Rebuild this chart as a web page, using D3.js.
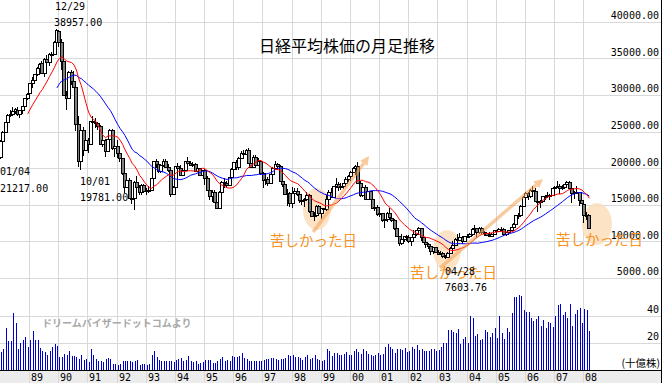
<!DOCTYPE html>
<html><head><meta charset="utf-8">
<script src="https://cdn.jsdelivr.net/npm/d3@7"></script>
<style>body{margin:0;background:#fff}svg{display:block}</style>
</head><body><svg id="c" width="662" height="383"></svg>
<script>
// ---- DATA (Nikkei 225 monthly, Jan 1988 - Mar 2008) ----
const startYear = 1988;
const opens = [
21575,23700,25000,26300,27250,27400,27770,28000,27350,27900,28500,29600,
30200,31600,32000,32800,33700,34300,32950,34950,34430,35640,35550,37270,
38700,37200,34600,29980,29600,33130,31940,31036,25980,20980,25200,22450,
23850,23300,26400,26300,26100,25800,23290,23900,22340,23920,25220,22690,
22990,22020,21340,19350,17390,18350,15950,15910,18060,17400,16770,17680,
16930,17020,17030,18590,20920,20550,19590,20380,21030,20110,19700,16410,
17420,20230,20000,19110,19730,20970,20640,20450,20630,19560,19990,19080,
19720,18650,17050,16140,16810,15440,14520,16680,18120,17910,17660,18740,
19870,20810,20130,21410,22040,21960,22530,20690,20170,21560,20470,21020,
19360,18330,18560,18000,19150,20070,20600,20330,18230,17890,16460,16640,
15260,16630,16830,16530,15640,15670,15830,16380,14110,13400,13570,14880,
13840,14500,14370,15840,16700,16110,17530,17860,17440,17600,17940,18560,
18940,19540,19960,20340,17970,16330,17410,15730,16860,15750,14540,14650,
13790,13840,12880,13000,13930,13260,12970,11860,10710,9780,10370,10700,
10540,10000,10590,11020,11490,11760,10620,9880,9620,9380,8640,9220,
8580,8340,8360,7970,7830,8430,9080,9560,10340,10220,10560,10100,
10680,10780,11040,11710,11760,11240,11860,11330,11080,10820,10770,11000,
11490,11390,11740,11670,11010,11280,11580,11900,12410,13570,13610,14870,
16110,16650,16210,17060,16910,15470,15500,15460,16140,16130,16400,16270,
17230,17380,17600,17290,17400,17880,18140,17250,16570,16790,16740,15680,
15150,13590,13600];
const highs = [
23800,25100,26300,27400,28000,28350,28200,28400,28000,28500,29600,30200,
31600,32500,32900,33800,34300,34700,35000,35400,35700,35900,37300,38957,
38713,37700,35000,30600,33300,33400,33200,31100,27100,25400,25600,24400,
24100,26500,27146,26800,26300,25900,24300,24000,24000,25300,25300,23100,
23800,22200,21400,19500,18800,18600,16600,18300,18900,17700,17900,17900,
17300,17600,18700,21000,21200,20800,20500,21281,21300,20500,19800,17600,
20300,20700,20400,19900,21000,21552,21000,20900,20700,20100,20000,19800,
19900,18900,17300,17000,17000,15600,16900,18300,18600,18200,18800,20000,
20900,21100,21500,22300,22500,22666,22700,21200,21800,21800,21400,21100,
19500,18900,18800,19200,20200,20910,20700,20400,18500,18000,17200,16700,
17400,17300,17300,16700,16000,15900,16800,16500,14800,14000,15000,15000,
14500,14600,16400,17000,17300,17600,18600,18100,18000,18000,18800,19000,
19600,20200,20400,20833,18300,17500,17700,16900,16900,16200,15100,14900,
14200,13900,13300,14000,14529,13700,13000,12200,10800,11000,10800,10900,
10900,10600,11500,11600,11979,11800,10700,10300,9800,9400,9300,9250,
8800,8700,8600,8200,8500,9200,10000,10400,11000,11161,10700,10800,
11000,11100,11800,12195,11800,12000,11900,11400,11300,11300,11200,11500,
11500,11800,11950,11800,11300,11600,11900,12500,13600,13900,14900,16200,
16700,16800,17100,17563,17300,15600,15700,16200,16400,16800,16500,17300,
17600,18300,17800,17700,17900,18300,18262,17300,16900,17500,16800,16300,
15200,14000,13700];
const lows = [
21217,23400,24800,26000,27000,27200,27400,27100,26800,27400,28300,29300,
29700,31000,31500,32600,33200,32900,32500,34100,34000,34800,35400,37000,
36600,33400,29843,28002,29500,31300,31000,25100,20222,19781,21600,22400,
22083,23200,25600,25500,25200,23200,22900,21456,22200,23600,22500,21500,
21400,20800,19000,16600,17300,15800,15100,14309,17000,16300,16300,16700,
16400,16600,16900,18500,20000,19400,19300,20100,20000,19500,16078,16300,
17300,19500,19100,18900,19600,20400,20300,20100,19500,19500,18900,18900,
17700,16900,15700,15400,15400,14485,14400,16500,17300,17300,17500,18600,
19700,19700,19800,21300,21600,21800,20500,20100,20000,20400,20300,19100,
17303,17700,17500,17800,19000,19900,19700,18100,17400,16300,14800,14700,
14500,16100,16200,15300,15000,14700,15700,13900,13300,12788,13500,13700,
13100,13800,14100,15800,16000,16000,17300,16900,17000,17100,17800,18100,
18200,19300,19100,17900,16000,16000,15600,15600,15700,14500,14200,13400,
13300,12600,11819,12600,13200,12600,11600,10600,9382,9500,9900,10100,
9800,9420,10500,10800,11400,10100,9800,9075,9000,8197,8300,8400,
8300,8300,7700,7604,7800,8400,9000,9400,10200,10200,9600,9900,
10400,10400,10800,11700,10500,11000,11000,10700,10800,10600,10700,10900,
11200,11300,11500,10800,10800,11200,11500,11800,12300,13100,13600,14700,
15341,15700,15900,16800,15500,14046,14500,15200,15600,16100,15600,16200,
16900,17300,16500,17000,17200,17700,17200,15273,15800,16600,14800,15100,
12573,12900,11691];
const closes = [
23719,25000,26260,27256,27418,27769,28019,27366,27924,28487,29579,30159,
31581,31986,32839,33713,34267,32949,34954,34431,35637,35549,37269,38916,
37189,34592,29980,29585,33131,31940,31036,25978,20984,25194,22455,23849,
23293,26409,26292,26111,25790,23291,23900,22335,23916,25222,22687,22984,
22023,21339,19346,17391,18348,15952,15910,18061,17400,16767,17683,16925,
17024,17033,18591,20919,20552,19590,20380,21027,20106,19703,16408,17417,
20229,19997,19112,19725,20974,20644,20449,20629,19563,19990,19076,19723,
18650,17053,16140,16807,15437,14517,16678,18117,17913,17655,18744,19868,
20813,20125,21407,22041,21956,22531,20693,20167,21556,20467,21020,19361,
18330,18557,18003,19151,20069,20605,20331,18229,17888,16459,16636,15259,
16628,16832,16527,15641,15671,15830,16379,14108,13406,13565,14884,13842,
14499,14368,15837,16702,16112,17530,17862,17437,17605,17943,18558,18934,
19540,19960,20337,17974,16332,17411,15727,16861,15747,14539,14649,13786,
13844,12884,12999,13934,13262,12969,11861,10714,9775,10366,10697,10543,
9998,10588,11025,11493,11764,10622,9877,9619,9383,8640,9216,8579,
8340,8363,7973,7831,8425,9083,9563,10344,10219,10560,10101,10677,
10784,11042,11715,11762,11236,11859,11326,11082,10824,10771,11001,11489,
11388,11741,11669,11009,11277,11584,11900,12414,13574,13607,14872,16111,
16650,16206,17060,16907,15468,15505,15457,16141,16128,16399,16274,17226,
17383,17604,17288,17400,17876,18138,17249,16569,16786,16737,15681,15308,
13592,13603,11800];
// monthly volume, billions of shares
const volumes = [
12.7,15.4,31,21,21,42,34.6,15.6,19.5,22,24.4,17,
22,28.8,22,22,15.9,13.4,12.7,11,13.4,16.6,19,17.6,
9.3,9.3,11.7,11,13.9,9.8,9.8,9.3,7.8,11,7.3,7.8,
5.4,15,11,7.8,6,6,5.4,7.8,8.5,7.8,4.4,4.4,
3.7,4.4,6,6,6,6,5.4,6,7.3,3.7,4.4,4.4,
3.7,4.4,11,14,9.3,7.3,6,6,6,6,6,5.4,
7.3,7.8,8.5,6,7.3,10,6,5.4,6,4.4,4.9,5.4,
6.8,6.8,7.3,4.9,4.9,6,8,9,6,7.3,6,10,
9.3,9.3,10,12,8.3,7.8,6,6,6,6,6,6,
7.3,7.8,7.8,8.5,8.5,7.8,7.3,7.8,7.8,8.5,11,9.8,
10.7,9.3,9.3,8.3,7.3,9.3,10.7,8,8.8,10.7,7.8,7.3,
6.3,7.3,15.4,13.4,10,12,12,11,11,11.7,13,11,
11,14,15,12.7,11.7,15.4,13.4,11.7,11,10,11,12.2,
11,11.7,17,19,17,15.4,12.2,15.4,15.4,14.6,15.9,12.7,
14,17,15.4,18.3,14.6,15.4,13.4,14,14,15.4,15.4,13.4,
14.6,16.6,19.5,20,29,29,27.8,27,30,19,23,24,
20,39.5,38.5,24.9,26.3,22,23,29,27.8,24.4,27.3,30.5,
23.7,39.5,27.3,23,30.5,28,42,54,54,55.6,54.4,44,
43,43,38.5,36,37.8,39.5,32,36.6,30.5,35.4,34.6,31.7,
39.5,48,49,40.5,43,38,49,32,41.5,44,46,34.6,
45,44,28.8];
const yearTicks = [1989,1990,1991,1992,1993,1994,1995,1996,1997,1998,1999,2000,2001,2002,2003,2004,2005,2006,2007,2008];
const yearLabels = ["89","90","91","92","93","94","95","96","97","98","99","00","01","02","03","04","05","06","07","08"];
const priceTicks = [5000,10000,15000,20000,25000,30000,35000,40000];
const volumeTicks = [20,40];
const titleText = "日経平均株価の月足推移";
const pointNotes = [
  {date:"12/29", value:"38957.00"},
  {date:"01/04", value:"21217.00"},
  {date:"10/01", value:"19781.00"},
  {date:"04/28", value:"7603.76"}
];
const painLabel = "苦しかった日";
const watermark = "ドリームバイザードットコムより";
const volumeUnit = "(十億株)";
// highlight ellipses & arrows in data coordinates (year, price)
const hlCenters = [[1998.87,14420],[2003.33,8820],[2008.47,12370]];
const arrows = [[[1998.74,11280],[2000.66,21650]],[[2003.09,6360],[2006.62,18520]]];

// ---- DRAW ----
const W = 662, H = 383;
const svg = d3.select("#c");
svg.append("rect").attr("width",W).attr("height",H).attr("fill","#fff");

const x = d3.scaleLinear().domain([1988,2008]).range([-0.17,583.23]);
const mx = i => x(startYear + (i+0.5)/12);
const yP = d3.scaleLinear().domain([0,40000]).range([314.6,21.7]);
const yV = d3.scaleLinear().domain([0,40]).range([369.5,315.7]);
const cr = v => Math.round(v)+0.5;
const mono = "'DejaVu Sans Mono','Liberation Mono',monospace";
const jp = "'Noto Sans CJK JP','Noto Sans',sans-serif";

// bottom band
svg.append("rect").attr("x",0).attr("y",370).attr("width",W).attr("height",13).attr("fill","#ececec");

// grid
const g = svg.append("g").attr("stroke","#d9d9d9").attr("shape-rendering","crispEdges");
g.selectAll("line.v").data(yearTicks).join("line")
  .attr("x1",d=>cr(x(d))).attr("x2",d=>cr(x(d))).attr("y1",0).attr("y2",H);
g.selectAll("line.p").data(priceTicks).join("line").attr("class","p")
  .attr("x1",0).attr("x2",661).attr("y1",d=>cr(yP(d))).attr("y2",d=>cr(yP(d)));
g.selectAll("line.q").data(volumeTicks).join("line").attr("class","q")
  .attr("x1",0).attr("x2",661).attr("y1",d=>cr(yV(d))).attr("y2",d=>cr(yV(d)));

// highlight ellipses
svg.append("g").selectAll("ellipse").data(hlCenters).join("ellipse")
  .attr("cx",d=>x(d[0])).attr("cy",d=>yP(d[1])).attr("rx",(d,i)=>i==2?15:14).attr("ry",(d,i)=>i==1?20:21)
  .attr("fill","#fbdcb8").attr("opacity",0.8);

// volume bars
svg.append("g").attr("stroke","#0000cc").attr("shape-rendering","crispEdges")
  .selectAll("line").data(volumes).join("line")
  .attr("x1",(d,i)=>cr(mx(i))).attr("x2",(d,i)=>cr(mx(i)))
  .attr("y1",yV(0)).attr("y2",d=>yV(d));

// candles
const idx = d3.range(closes.length);
const cg = svg.append("g").attr("shape-rendering","crispEdges");
cg.selectAll("line").data(idx).join("line")
  .attr("x1",i=>Math.round(mx(i))-0.5).attr("x2",i=>Math.round(mx(i))-0.5)
  .attr("y1",i=>yP(highs[i])).attr("y2",i=>yP(lows[i]))
  .attr("stroke","#000");
cg.selectAll("rect").data(idx).join("rect")
  .attr("x",i=>Math.round(mx(i))-1.5).attr("width",3)
  .attr("y",i=>Math.round(yP(Math.max(opens[i],closes[i])))+0.5)
  .attr("height",i=>Math.max(1,Math.round(yP(Math.min(opens[i],closes[i])))-Math.round(yP(Math.max(opens[i],closes[i])))))
  .attr("fill",i=>closes[i]>=opens[i]?"#fff":"#808080").attr("stroke","#000");

// moving averages
const ma = n => closes.map((c,i)=> i<n-1?null:d3.mean(closes.slice(i-n+1,i+1)));
const lineGen = d3.line().defined(d=>d!=null).x((d,i)=>mx(i)).y(d=>yP(d));
svg.append("path").attr("d",lineGen(ma(24))).attr("fill","none").attr("stroke","#0000ff").attr("stroke-width",1);
svg.append("path").attr("d",lineGen(ma(12))).attr("fill","none").attr("stroke","#ff0000").attr("stroke-width",1);

// arrows
const ag = svg.append("g").attr("opacity",0.55);
arrows.forEach(a=>{
  const x1=x(a[0][0]),y1=yP(a[0][1]),x2=x(a[1][0]),y2=yP(a[1][1]);
  const ang=Math.atan2(y2-y1,x2-x1), L=9, Wd=4.5;
  const bx=x2-L*Math.cos(ang), by=y2-L*Math.sin(ang);
  ag.append("line").attr("x1",x1).attr("y1",y1).attr("x2",bx).attr("y2",by)
    .attr("stroke","#f4a050").attr("stroke-width",3.5);
  ag.append("path").attr("d",`M${x2},${y2}L${bx-Wd*Math.sin(ang)},${by+Wd*Math.cos(ang)}L${bx+Wd*Math.sin(ang)},${by-Wd*Math.cos(ang)}Z`)
    .attr("fill","#f4a050");
});

// axes baseline + border
svg.append("line").attr("x1",0).attr("x2",W).attr("y1",370.5).attr("y2",370.5).attr("stroke","#000");
svg.append("line").attr("x1",661.5).attr("x2",661.5).attr("y1",0).attr("y2",H).attr("stroke","#000");

// year labels
svg.append("g").selectAll("text").data(yearTicks).join("text")
  .attr("x",d=>Math.round(x(d))+2).attr("y",381).text((d,i)=>yearLabels[i])
  .attr("font-family",mono).attr("font-size",10).attr("fill","#000");

// price labels
svg.append("g").selectAll("text").data(priceTicks).join("text")
  .attr("x",659).attr("y",d=>yP(d)-2.5).attr("text-anchor","end").text(d=>d3.format(".2f")(d))
  .attr("font-family",mono).attr("font-size",10).attr("fill","#000");
// volume labels
svg.append("g").selectAll("text").data(volumeTicks).join("text")
  .attr("x",659).attr("y",d=>yV(d)-2.5).attr("text-anchor","end").text(d=>d)
  .attr("font-family",mono).attr("font-size",10).attr("fill","#000");
svg.append("text").attr("x",660).attr("y",367).attr("text-anchor","end").text(volumeUnit)
  .attr("font-family",jp).attr("font-size",10.5).attr("fill","#000");

// watermark
svg.append("text").attr("x",42).attr("y",327).text(watermark)
  .attr("font-family",jp).attr("font-size",10).attr("font-weight","bold").attr("fill","#a8a8a8");

// title
svg.append("text").attr("x",347).attr("y",52).attr("text-anchor","middle").text(titleText)
  .attr("font-family",jp).attr("font-size",16).attr("fill","#000");

// orange labels
const painPos = [[270,246],[410,278],[556,245]];
svg.append("g").selectAll("text").data(painPos).join("text")
  .attr("x",d=>d[0]).attr("y",d=>d[1]).text(painLabel)
  .attr("font-family",jp).attr("font-size",14.5).attr("fill","#f7931e");

// point notes
const notePos = [[55,10,54,26],[0,175,0,192],[80,185,80,201],[445,275,445,291]];
const ng = svg.append("g").attr("font-family",mono).attr("font-size",10).attr("fill","#000");
pointNotes.forEach((n,i)=>{
  const p=notePos[i];
  ng.append("text").attr("x",p[0]).attr("y",p[1]).text(n.date);
  ng.append("text").attr("x",p[2]).attr("y",p[3]).text(n.value);
});
</script></body></html>
